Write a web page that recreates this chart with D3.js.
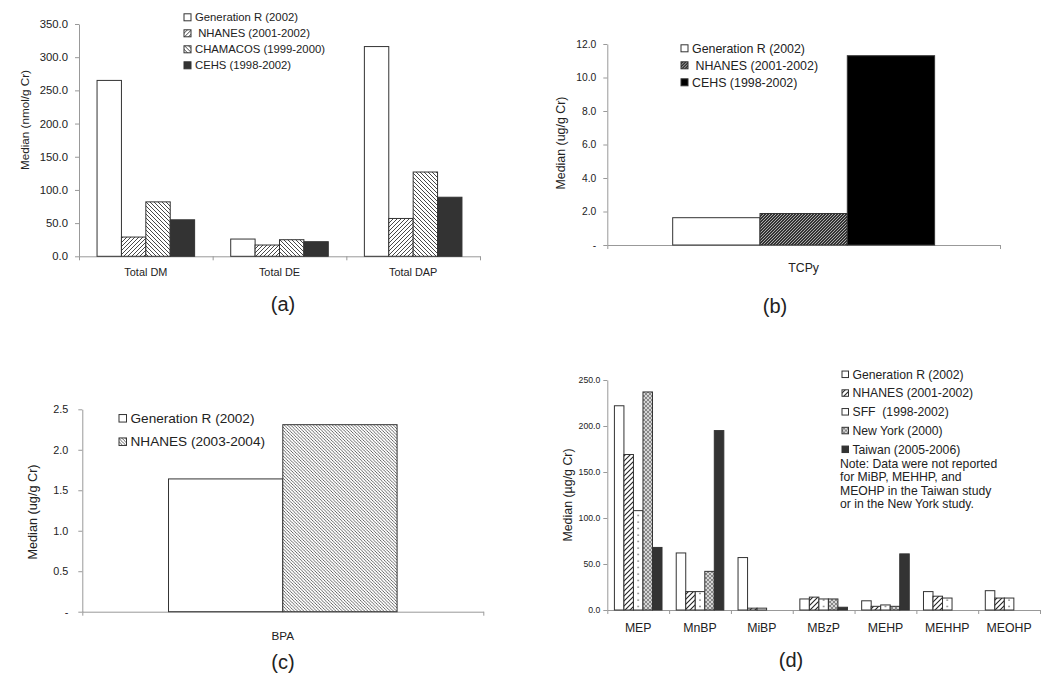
<!DOCTYPE html>
<html>
<head>
<meta charset="utf-8">
<script src="https://cdn.jsdelivr.net/npm/d3@7"></script>
<style>
  body { margin: 0; background: #fff; }
  svg text { font-family: "Liberation Sans", Arial, sans-serif; fill: #222; white-space: pre; }
</style>
</head>
<body>
<svg id="chart" width="1050" height="686"></svg>
<script>
// ---------- data ----------

// (a) dialkyl phosphates, nmol/g Cr
const catsA = ["Total DM", "Total DE", "Total DAP"];
const seriesA = ["Generation R (2002)", " NHANES (2001-2002)", "CHAMACOS (1999-2000)", "CEHS (1998-2002)"];
const genRA = [265, 26, 316];
const nhanesA = [29, 17, 57];
const chamacosA = [82, 25, 127];
const cehsA = [55, 22, 89];
const ticksA = [0, 50, 100, 150, 200, 250, 300, 350];

// (b) TCPy, ug/g Cr
const catsB = ["TCPy"];
const seriesB = ["Generation R (2002)", " NHANES (2001-2002)", "CEHS (1998-2002)"];
const genRB = [1.63];
const nhanesB = [1.88];
const cehsB = [11.3];
const ticksB = [0, 2, 4, 6, 8, 10, 12];

// (c) BPA, ug/g Cr
const catsC = ["BPA"];
const seriesC = ["Generation R (2002)", "NHANES (2003-2004)"];
const genRC = [1.64];
const nhanesC = [2.31];
const ticksC = [0, 0.5, 1, 1.5, 2, 2.5];

// (d) phthalate metabolites, ug/g Cr (null = not reported)
const catsD = ["MEP", "MnBP", "MiBP", "MBzP", "MEHP", "MEHHP", "MEOHP"];
const seriesD = ["Generation R (2002)", "NHANES (2001-2002)", "SFF  (1998-2002)", "New York (2000)", "Taiwan (2005-2006)"];
const genRD = [222, 62, 57, 12, 10, 20, 21];
const nhanesD = [169, 20, 2, 14, 4, 15, 13];
const sffD = [108, 20, 2, 12, 5.5, 13, 13];
const newYorkD = [237, 42, null, 12, 4, null, null];
const taiwanD = [68, 195, null, 3, 61, null, null];
const ticksD = [0, 50, 100, 150, 200, 250];
const noteD = ["Note: Data were not reported", "for MiBP, MEHHP, and", "MEOHP in the Taiwan study", "or in the New York study."];

// ---------- patterns ----------
const svg = d3.select("#chart");
const defs = svg.append("defs");

function hatch(id, size, dir, stroke, width, bg) {
  let p = defs.append("pattern")
    .attr("id", id)
    .attr("patternUnits", "userSpaceOnUse")
    .attr("width", size)
    .attr("height", size);
  p.append("rect").attr("width", size).attr("height", size).attr("fill", bg);
  let s = size, h = size / 2;
  let d = dir === "/"
    ? `M0,${s}L${s},0M${-h},${h}L${h},${-h}M${h},${s + h}L${s + h},${h}`
    : `M0,0L${s},${s}M${-h},${h}L${h},${s + h}M${h},${-h}L${s + h},${h}`;
  p.append("path").attr("d", d).attr("stroke", stroke).attr("stroke-width", width);
  return `url(#${id})`;
}

const fA1 = hatch("hA1", 4, "/", "#333", 0.9, "#fff");
const fA2 = hatch("hA2", 4, "\\", "#333", 0.9, "#fff");
const fB1 = hatch("hB1", 3, "/", "#ccc", 0.8, "#333");
const fC1 = hatch("hC1", 3.2, "\\", "#444", 0.8, "#fff");
const fD1 = hatch("hD1", 5, "/", "#222", 1.1, "#fff");
// New York: cross hatch
let ny = defs.append("pattern").attr("id", "hNY")
  .attr("patternUnits", "userSpaceOnUse").attr("width", 4).attr("height", 4);
ny.append("rect").attr("width", 4).attr("height", 4).attr("fill", "#d6d6d6");
ny.append("path").attr("d", "M0,0L4,4M0,4L4,0").attr("stroke", "#666").attr("stroke-width", 0.7);

// ---------- panel settings ----------
const panels = [
  { cats: catsA, series: seriesA, values: [genRA, nhanesA, chamacosA, cehsA],
    fills: ["#fff", fA1, fA2, "#333"],
    x0: 79, x1: 480, yTop: 24, yBase: 256.3, yMax: 350, ticks: ticksA, zero: "0.0",
    group: 0.73, tickFont: 11.3, tickPad: 7, catFont: 10.9, catPad: 12,
    title: "Median (nmol/g Cr)", titleX: 25, titleY: 120, titleFont: 11.7,
    legend: { x: 184, y: 17.3, dy: 16, font: 11.3, box: 7 },
    label: "(a)", labelX: 283, labelY: 304 },
  { cats: catsB, series: seriesB, values: [genRB, nhanesB, cehsB],
    fills: ["#fff", fB1, "#000"],
    x0: 607.3, x1: 1000, yTop: 44, yBase: 245, yMax: 12, ticks: ticksB, zero: "-",
    group: 0.667, tickFont: 10.3, tickPad: 7, catFont: 12.3, catPad: 18,
    title: "Median (ug/g Cr)", titleX: 561, titleY: 143, titleFont: 12.4,
    legend: { x: 681, y: 48.3, dy: 17, font: 12.4, box: 7 },
    label: "(b)", labelX: 775, labelY: 306 },
  { cats: catsC, series: seriesC, values: [genRC, nhanesC],
    fills: ["#fff", fC1],
    x0: 82.3, x1: 483.3, yTop: 409.3, yBase: 611.7, yMax: 2.5, ticks: ticksC, zero: "-",
    group: 0.57, tickFont: 10.8, tickPad: 10, catFont: 11.7, catPad: 20,
    title: "Median (ug/g Cr)", titleX: 33, titleY: 512, titleFont: 12.7,
    legend: { x: 119, y: 418.3, dy: 23.4, font: 13.6, box: 7.5 },
    label: "(c)", labelX: 283, labelY: 662 },
  { cats: catsD, series: seriesD, values: [genRD, nhanesD, sffD, newYorkD, taiwanD],
    fills: ["#fff", fD1, "dots", "url(#hNY)", "#333"],
    x0: 607.3, x1: 1040, yTop: 380, yBase: 610, yMax: 250, ticks: ticksD, zero: "0.0",
    group: 0.77, tickFont: 8.7, tickPad: 3, catFont: 12.3, catPad: 13,
    title: "Median (\u00b5g/g Cr)", titleX: 568, titleY: 495, titleFont: 12.4,
    legend: { x: 842, y: 374.3, dy: 18.75, font: 12.2, box: 6.5 },
    note: noteD, noteY: 463.5, noteDy: 13.4,
    label: "(d)", labelX: 791, labelY: 660 }
];

// ---------- drawing ----------
function drawPanel(p, pi) {
  let g = svg.append("g");

  let x = d3.scaleBand().domain(p.cats).range([p.x0, p.x1]).padding(0);
  let bw = x.bandwidth();
  let xs = d3.scaleBand()
    .domain(d3.range(p.series.length))
    .range([bw * (1 - p.group) / 2, bw * (1 + p.group) / 2])
    .padding(0);
  let y = d3.scaleLinear().domain([0, p.yMax]).range([p.yBase, p.yTop]);

  // y axis
  let yAxis = g.append("g")
    .attr("transform", `translate(${p.x0},0)`)
    .call(d3.axisLeft(y)
      .tickValues(p.ticks)
      .tickSize(4)
      .tickSizeOuter(0)
      .tickPadding(p.tickPad)
      .tickFormat(d => d === 0 ? p.zero : d3.format(".1f")(d)));
  yAxis.selectAll("path, line").attr("stroke", "#999");
  yAxis.selectAll("text").attr("font-size", p.tickFont).attr("fill", "#222");

  // x axis: boundary ticks plus category labels
  let xb = d3.scaleLinear().domain([0, p.cats.length]).range([p.x0, p.x1]);
  let xTicks = g.append("g")
    .attr("transform", `translate(0,${p.yBase})`)
    .call(d3.axisBottom(xb).tickValues(d3.range(p.cats.length + 1)).tickSize(4).tickSizeOuter(0).tickFormat(""));
  xTicks.selectAll("path, line").attr("stroke", "#999");

  let xLab = g.append("g")
    .attr("transform", `translate(0,${p.yBase})`)
    .call(d3.axisBottom(x).tickSize(0).tickPadding(p.catPad));
  xLab.select("path").remove();
  xLab.selectAll("text").attr("font-size", p.catFont).attr("fill", "#222");

  // bars
  let rows = [];
  p.values.forEach((vals, si) => {
    vals.forEach((v, ci) => {
      if (v !== null) rows.push({ si, ci, v });
    });
  });

  rows.forEach(d => {
    let bx = x(p.cats[d.ci]) + xs(d.si);
    let fill = p.fills[d.si];
    if (fill === "dots") {
      // sparse dots down the middle of each SFF bar
      let id = `dots${pi}_${d.ci}`;
      let pat = defs.append("pattern").attr("id", id)
        .attr("patternUnits", "userSpaceOnUse")
        .attr("x", bx).attr("y", p.yBase)
        .attr("width", xs.bandwidth()).attr("height", 6.5);
      pat.append("rect").attr("width", xs.bandwidth()).attr("height", 6.5).attr("fill", "#fff");
      pat.append("circle").attr("cx", xs.bandwidth() / 2).attr("cy", 3).attr("r", 0.75).attr("fill", "#333");
      fill = `url(#${id})`;
    }
    d.x = bx;
    d.fill = fill;
  });

  g.append("g").selectAll("rect")
    .data(rows)
    .join("rect")
      .attr("x", d => d.x)
      .attr("y", d => y(d.v))
      .attr("width", xs.bandwidth())
      .attr("height", d => y(0) - y(d.v))
      .attr("fill", d => d.fill)
      .attr("stroke", "#333")
      .attr("stroke-width", 1);

  // y title
  g.append("text")
    .attr("transform", `translate(${p.titleX},${p.titleY}) rotate(-90)`)
    .attr("text-anchor", "middle")
    .attr("dy", "0.35em")
    .attr("font-size", p.titleFont)
    .text(p.title);

  // legend
  let lg = g.append("g");
  let items = lg.selectAll("g")
    .data(p.series)
    .join("g")
      .attr("transform", (d, i) => `translate(${p.legend.x},${p.legend.y + i * p.legend.dy})`);
  items.append("rect")
    .attr("x", 0).attr("y", -p.legend.box / 2)
    .attr("width", p.legend.box).attr("height", p.legend.box)
    .attr("fill", (d, i) => p.fills[i] === "dots" ? "#fff" : p.fills[i])
    .attr("stroke", "#333");
  items.append("text")
    .attr("x", p.legend.box + 4)
    .attr("dy", "0.35em")
    .attr("font-size", p.legend.font)
    .text(d => d);

  if (p.note) {
    lg.selectAll("text.note")
      .data(p.note)
      .join("text")
        .attr("class", "note")
        .attr("x", p.legend.x - 2)
        .attr("y", (d, i) => p.noteY + i * p.noteDy)
        .attr("dy", "0.35em")
        .attr("font-size", p.legend.font)
        .text(d => d);
  }

  // panel letter
  g.append("text")
    .attr("x", p.labelX)
    .attr("y", p.labelY)
    .attr("dy", "0.35em")
    .attr("text-anchor", "middle")
    .attr("font-size", 20)
    .text(p.label);
}

panels.forEach(drawPanel);
</script>
</body>
</html>
